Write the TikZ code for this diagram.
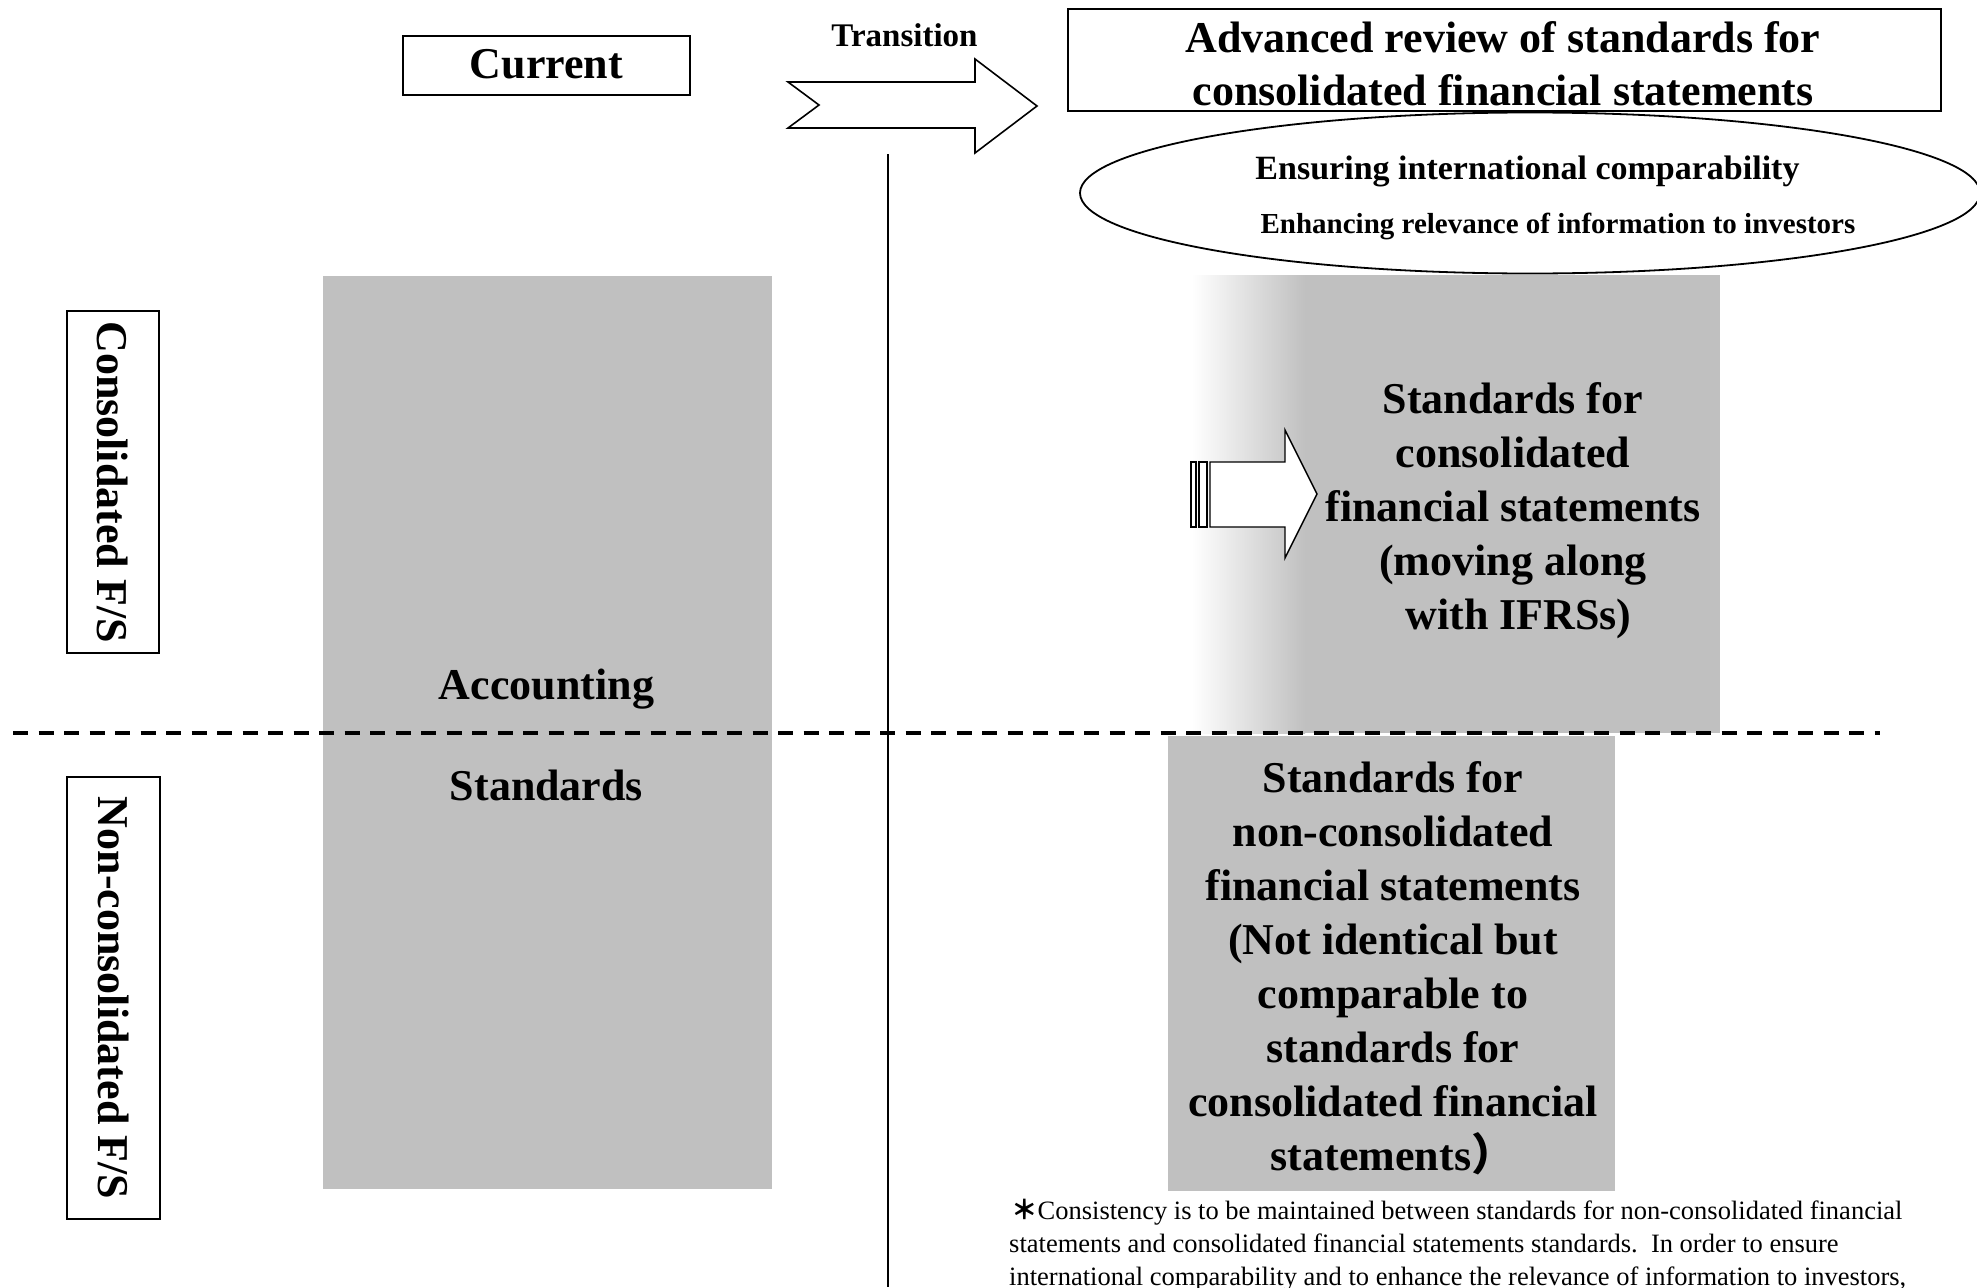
\documentclass[tikz,border=0pt]{standalone}
\usepackage{fontspec}
\setmainfont{Liberation Serif}
\newfontfamily\cjk{Noto Sans CJK JP}
\usetikzlibrary{shapes.geometric}
\definecolor{silver}{HTML}{C0C0C0}
\tikzset{
  framebox/.style={draw, line width=2pt, inner sep=0pt},
  bigtext/.style={font=\fontsize{44}{54}\selectfont\bfseries, align=center, inner sep=0pt},
  greybox/.style={fill=silver, draw=none, inner sep=0pt},
  foot/.style={font=\fontsize{26.5}{33}\selectfont, anchor=base west, inner sep=0pt},
  arrowshape/.style={draw, fill=white, line width=1.6pt, line join=miter},
}
\begin{document}
\begin{tikzpicture}[x=1pt,y=-1pt]
\useasboundingbox (0,0) rectangle (1977,1287);
\fill[white] (0,0) rectangle (1977,1287);

% grey blocks
\node[greybox, minimum width=449, minimum height=913] (curstd) at (547.5,732.5) {};
\shade[left color=white, right color=silver, shading angle=90] (1192,275) rectangle (1305,733);
\node[greybox, minimum width=415, minimum height=458, anchor=north west] (consstd) at (1305,275) {};
\coordinate (consleft) at (1192,275);
\node[greybox, minimum width=447, minimum height=455, anchor=north west] (nonstd) at (1168,736) {};

% column divider
\coordinate (vtop) at (888,154);
\coordinate (vbot) at (888,1287);
\draw[line width=2pt] (vtop) -- (vbot);

% dashed divider
\coordinate (dl) at (13,733);
\coordinate (dr) at (1880,733);
\draw[line width=3.6pt, dash pattern=on 15pt off 10.5pt] (dl) -- (dr);

% header
\node[framebox, minimum width=287, minimum height=59] (current) at (546.5,65.5) {};
\node[bigtext, anchor=base] (currenttxt) at (546.5,79) {Current};

\node[font=\fontsize{33}{40}\selectfont\bfseries, anchor=base, inner sep=0pt] (transition) at (904.5,47) {Transition};
\draw[arrowshape] (788,82) -- (975,82) -- (975,59) -- (1037,106) -- (975,153) -- (975,128) -- (788,128) -- (819,105) -- cycle;

\node[framebox, minimum width=873, minimum height=102] (review) at (1504.5,60) {};
\node[bigtext, font=\fontsize{44}{53}\selectfont\bfseries] (reviewtxt) at (1503,64)
  {Advanced review of standards for\\consolidated financial statements};

\node[ellipse, draw, line width=1.8pt, minimum width=900, minimum height=161, inner sep=0pt] (goals) at (1530,193) {};
\node[font=\fontsize{34}{40}\selectfont\bfseries, anchor=base, inner sep=0pt] (goal1) at (1527.5,179) {Ensuring international comparability};
\node[font=\fontsize{29}{34}\selectfont\bfseries, anchor=base, inner sep=0pt] (goal2) at (1558,233) {Enhancing relevance of information to investors};

% side labels
\node[framebox, rotate=-90, minimum width=342, minimum height=92, font=\fontsize{44}{54}\selectfont\bfseries] (conslabel) at (113,482) {Consolidated F/S};
\node[framebox, rotate=-90, minimum width=442, minimum height=93, font=\fontsize{44}{54}\selectfont\bfseries] (nonlabel) at (113.5,998) {Non-consolidated F/S};

% left block text
\node[bigtext, anchor=base] (acc) at (546.5,699) {Accounting};
\node[bigtext, anchor=base] (std) at (546.5,800) {Standards};

% inner arrow
\draw[line width=1.4pt, fill=white] (1191,462) rectangle (1196,527);
\draw[line width=1.4pt, fill=white] (1199,462) rectangle (1207,527);
\draw[arrowshape, line width=1.4pt] (1210,462) -- (1285,462) -- (1285,430) -- (1317,494) -- (1285,558) -- (1285,527) -- (1210,527) -- cycle;

\node[bigtext] (constxt) at (1513,511)
  {Standards for\\consolidated\\financial statements\\(moving along\\\hspace*{11pt}with IFRSs)};

\node[bigtext] (nontxt) at (1393,968)
  {Standards for\\non-consolidated\\financial statements\\(Not identical but\\comparable to\\standards for\\consolidated financial\\statements{\cjk ）}};

% footnote
\node[foot] (foot1) at (1011,1219) {{\cjk\bfseries ＊}Consistency is to be maintained between standards for non-consolidated financial};
\node[foot] (foot2) at (1009,1252) {statements and consolidated financial statements standards.\ \ In order to ensure};
\node[foot] (foot3) at (1009,1285) {international comparability and to enhance the relevance of information to investors,};
\end{tikzpicture}
\end{document}
